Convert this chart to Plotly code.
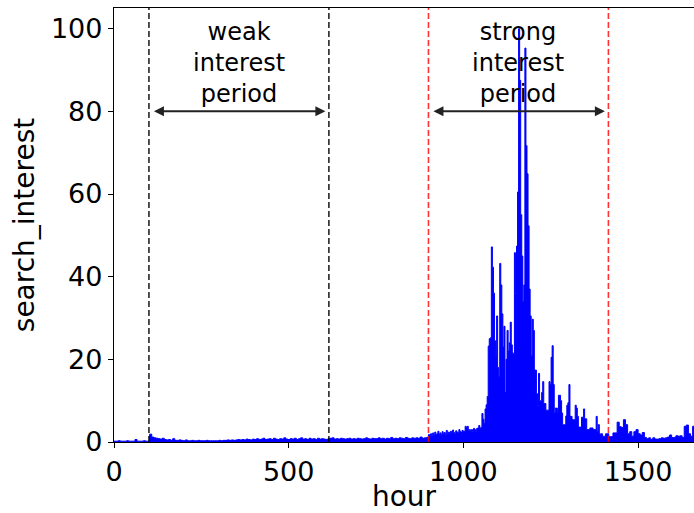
import plotly.graph_objects as go

# ---- data: hourly search interest, sampled in three segments ----
early_start, early_step = 0, 6
early_values = [
    0.2, 0.2, 0.3, 0.2, 0.2, 0.2, 0.3, 0.2, 0.2, 0.2, 0.6, 0.2, 0.2, 0.2, 0.3, 0.2, 0.2,
    1.9, 1.2, 1.0, 0.9, 0.8, 0.7, 0.9, 0.6, 0.5, 0.6, 0.4, 0.8, 0.4, 0.4, 0.5, 0.4, 0.3,
    0.5, 0.3, 0.3, 0.4, 0.3, 0.3, 0.4, 0.3, 0.3, 0.3, 0.4, 0.3, 0.3, 0.3, 0.3, 0.3, 0.4,
    0.3, 0.4, 0.4, 0.5, 0.4, 0.5, 0.4, 0.5, 0.6, 0.5, 0.6, 0.5, 0.7, 0.6, 0.5, 0.7, 0.6,
    0.8, 0.6, 0.7, 0.9, 0.6, 0.7, 0.8, 0.6, 0.9, 0.7, 0.6, 0.8, 0.7, 1.0, 0.7, 0.6, 0.8,
    0.7, 0.9, 0.6, 0.8, 1.0, 0.7, 0.8, 0.6, 0.9, 0.7, 0.8, 0.6, 0.9, 0.7, 0.8, 0.7, 0.6,
    0.8, 0.9, 1.0, 0.7, 0.8, 0.7, 0.9, 0.8, 0.7, 0.8, 0.9, 0.7, 0.8, 0.7, 0.9, 0.8, 0.7,
    0.8, 1.0, 0.8, 0.7, 0.9, 0.8, 0.8, 1.0, 0.8, 0.9, 0.7, 0.9, 0.8, 1.1, 0.8, 0.9, 0.8,
    1.0, 0.9, 0.8, 1.1, 0.9, 0.8, 1.0, 0.9, 1.0, 0.9, 1.2, 0.9, 1.0, 1.1,
]

peak_start, peak_step = 900, 3
peak_values = [
    1.8, 1.5, 2.0, 1.6, 2.2, 1.7, 2.4, 1.8, 2.0, 2.6, 1.9, 2.2, 1.7, 2.5, 2.0, 2.3, 1.9,
    2.8, 2.1, 2.4, 2.0, 2.6, 2.2, 2.9, 2.3, 2.0, 2.7, 2.4, 2.2, 3.0, 2.5, 2.3, 2.8, 2.6,
    2.6, 3.8, 3.5, 3.8, 2.8, 3.0, 2.4, 3.0, 2.6, 3.3, 3.0, 2.6, 3.3, 3.4, 4.0, 3.3, 3.5,
    6.9, 5.5, 4.5, 8.0, 9.0, 11.0, 23.2, 25.0, 25.2, 47.2, 42.3, 36.0, 24.5, 21.0, 30.5,
    18.0, 15.9, 43.2, 38.0, 31.0, 23.0, 28.0, 12.0, 20.0, 27.0, 22.0, 24.0, 29.0, 23.5,
    21.5, 21.5, 45.8, 36.0, 47.4, 60.5, 100.0, 87.5, 55.0, 45.0, 34.0, 38.0, 95.3, 71.7,
    64.9, 52.3, 37.0, 30.5, 20.8, 29.7,
    27.0, 17.4, 17.4, 11.7, 8.9, 16.6, 10.0, 10.0, 12.0, 14.6, 9.3, 9.3, 7.7, 7.7, 7.7,
    14.6, 14.0, 20.5, 23.3, 13.9, 7.0, 8.2, 8.2, 7.0, 11.3, 11.3, 10.0, 7.0, 4.2, 4.2,
    4.2, 6.3, 8.9, 9.5, 13.9, 6.2, 6.2, 5.4, 5.4, 5.4, 8.9, 8.2, 6.2, 3.6, 3.6, 3.6,
    6.0, 6.0, 8.0, 5.6, 5.6, 3.0, 3.0, 3.0, 3.4, 3.4, 3.4, 3.0, 3.0, 3.0, 6.2, 2.6,
    4.2, 2.0, 1.9, 2.0, 1.4, 1.4, 1.4, 2.0, 2.0, 2.0, 1.3, 1.3,
]

late_start, late_step = 1422, 6
late_values = [
    1.3, 2.2, 2.2, 4.8, 3.7, 3.5, 5.4, 4.2, 2.0, 2.5, 1.4, 2.5, 3.0, 2.0, 1.7, 2.3,
    1.1, 0.8, 1.0, 0.6, 1.0, 0.7, 0.7, 0.8, 1.0, 0.9, 1.0, 1.2, 1.7, 1.1, 1.1, 1.5,
    1.4, 1.5, 1.1, 3.8, 4.1, 2.0, 1.4, 3.8, 3.5,
]

weak_period = [100, 615]
strong_period = [900, 1415]
period_labels = ["weak<br>interest<br>period", "strong<br>interest<br>period"]
x_ticks = [0, 500, 1000, 1500]
y_ticks = [0, 20, 40, 60, 80, 100]
x_range = [0, 1660]
y_range = [0, 105]
arrow_level = 80

hours, values = [], []
for start, step, vals in [(early_start, early_step, early_values),
                          (peak_start, peak_step, peak_values),
                          (late_start, late_step, late_values)]:
    for i, v in enumerate(vals):
        hours.append(start + step * i)
        values.append(v)

FONT = "DejaVu Sans"
fig = go.Figure()
fig.add_trace(go.Scatter(
    x=hours, y=values, mode="lines", line=dict(color="#0000ff", width=1, shape="hv"),
    fill="tozeroy", fillcolor="#0000ff", hoverinfo="skip", showlegend=False,
))

for (x0, x1), col in [(weak_period, "rgba(0,0,0,0.85)"), (strong_period, "rgba(255,0,0,0.8)")]:
    for xv in (x0, x1):
        fig.add_shape(type="line", xref="x", yref="paper", x0=xv, x1=xv, y0=0, y1=1,
                      line=dict(color=col, width=1.6, dash="6px,3px"))
    fig.add_annotation(x=x1 - 10, y=arrow_level, ax=x0 + 10, ay=arrow_level,
                       xref="x", yref="y", axref="x", ayref="y", text="",
                       showarrow=True, arrowside="end+start", arrowhead=2,
                       arrowsize=1, arrowwidth=2, arrowcolor="#222222", standoff=0,
                       startstandoff=0)

for (x0, x1), label in zip([weak_period, strong_period], period_labels):
    fig.add_annotation(x=(x0 + x1) / 2, y=arrow_level + 0.6, xref="x", yref="y", text=label,
                       showarrow=False, xanchor="center", yanchor="bottom",
                       borderpad=0, font=dict(family=FONT, size=24, color="black"))

fig.update_layout(
    width=694, height=513,
    margin=dict(l=114, r=0, t=8, b=71),
    paper_bgcolor="white", plot_bgcolor="white",
    font=dict(family=FONT, size=27, color="black"),
    showlegend=False,
)
fig.update_xaxes(range=x_range, tickvals=x_ticks, ticks="outside", ticklen=5, tickwidth=1.2,
                 tickcolor="black", showline=True, linecolor="black", linewidth=1.3,
                 mirror=True, showgrid=False, zeroline=False,
                 title=dict(text="hour", font=dict(size=28), standoff=2))
fig.update_yaxes(range=y_range, tickvals=y_ticks, ticks="outside", ticklen=5, tickwidth=1.2,
                 tickcolor="black", showline=True, linecolor="black", linewidth=1.3,
                 mirror=False, showgrid=False, zeroline=False,
                 title=dict(text="search_interest", font=dict(size=28), standoff=8))

fig.write_html("out.html")
